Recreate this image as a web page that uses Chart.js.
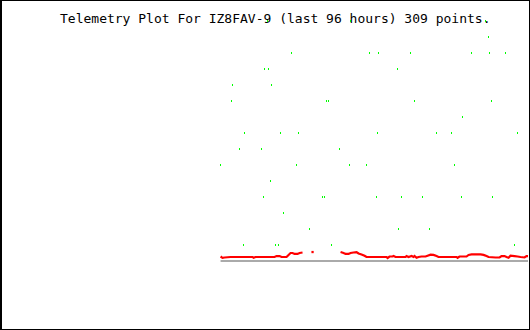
<!DOCTYPE html>
<html>
<head>
<meta charset="utf-8">
<script src="https://cdn.jsdelivr.net/npm/chart.js@4"></script>
<style>
  html, body { margin: 0; padding: 0; background: #fff; }
  #frame { position: relative; width: 530px; height: 330px; box-sizing: border-box;
           border-style: solid; border-color: #000; border-width: 1px 1px 1px 2px; background: #fff; }
  #title { position: absolute; left: 58px; top: 10px; font-family: "DejaVu Sans Mono", monospace;
           font-size: 13px; line-height: 15px; color: #000; white-space: pre; }
  #c { position: absolute; left: 0; top: 0; }
</style>
</head>
<body>
<div id="frame">
  <div id="title">Telemetry Plot For IZ8FAV-9 (last 96 hours) 309 points.</div>
  <canvas id="c" width="527" height="328"></canvas>
</div>
<script>
// ---- data (x = hours relative to now, y = plot value) ----
const titleText = "Telemetry Plot For IZ8FAV-9 (last 96 hours) 309 points.";

const greenHours = [
  -47.58, -32.49, -7.85,
  -7.25,
  -43.25, -28.96, -27.32, -21.48, -10.35, -7.06, -4.14,
  -48.13, -47.40, -23.85,
  -53.97, -46.85,
  -54.15, -36.83, -36.59, -20.75, -6.70,
  -11.99,
  -51.78, -45.21, -41.92, -27.50, -16.74, -14.00, -1.95,
  -52.69, -48.68, -34.44,
  -56.16, -42.29, -32.61, -29.51, -13.45, -0.05,
  -47.03,
  -48.31, -37.56, -37.32, -27.69, -23.12, -19.29, -12.17, -6.52,
  -44.66,
  -39.92, -23.67, -18.01,
  -51.96, -46.12, -45.57, -35.90, -2.50
];
const greenValues = [
  15, 15, 15,
  14,
  13, 13, 13, 13, 13, 13, 13,
  12, 12, 12,
  11, 11,
  10, 10, 10, 10, 10,
  9,
  8, 8, 8, 8, 8, 8, 8,
  7, 7, 7,
  6, 6, 6, 6, 6, 6,
  5,
  4, 4, 4, 4, 4, 4, 4, 4,
  3,
  2, 2, 2,
  1, 1, 1, 1, 1
];

const redHours = [
  -56.21, -55.85, -55.48, -54.39, -52.56, -50.37, -50.19, -49.83, -48.00, -46.36,
  -45.99, -45.44, -45.08, -44.17, -43.80, -43.44, -43.07, -42.71, -42.16, -41.79,
  -41.25, -40.50, -39.42, -37.00, -34.31, -33.76, -33.40, -32.85, -32.49, -31.94,
  -31.39, -31.03, -30.48, -29.93, -29.57, -27.92, -25.92, -25.73, -25.37, -24.82,
  -24.64, -24.27, -23.36, -22.45, -22.27, -21.90, -21.35, -20.99, -20.81, -20.44,
  -20.08, -19.53, -18.80, -18.43, -17.89, -17.34, -16.79, -16.43, -14.78, -13.14,
  -12.96, -12.59, -11.32, -10.95, -10.40, -8.76, -8.21, -7.67, -7.30, -6.02,
  -5.29, -4.93, -4.38, -4.02, -3.65, -3.29, -2.56, -2.01, -1.46, -0.73,
  -0.37, 0.00
];
const redValues = [
  0.28, 0.20, 0.22, 0.25, 0.25, 0.25, 0.20, 0.25, 0.25, 0.25,
  0.31, 0.31, 0.25, 0.25, 0.38, 0.50, 0.50, 0.44, 0.44, 0.50,
  0.53, null, 0.56, null, 0.56, 0.50, 0.44, 0.44, 0.50, 0.53,
  0.56, 0.47, 0.41, 0.33, 0.25, 0.25, 0.25, 0.19, 0.28, 0.28,
  0.31, 0.25, 0.25, 0.25, 0.31, 0.25, 0.31, 0.25, 0.31, 0.20,
  0.25, 0.28, 0.28, 0.33, 0.40, 0.38, 0.31, 0.25, 0.25, 0.25,
  0.20, 0.28, 0.28, 0.38, 0.41, 0.41, 0.38, 0.31, 0.25, 0.22,
  0.22, 0.31, 0.31, 0.25, 0.20, 0.33, 0.31, 0.28, 0.25, 0.22,
  0.31, 0.31
];

const baseHours = [-56.21, 0.00];
const baseValues = [0, 0];

// ---- build ----
function pts(xs, ys) { return xs.map((x, i) => ({ x: x, y: ys[i] })); }

const dot = document.createElement('canvas');
dot.width = 1; dot.height = 2;
const dctx = dot.getContext('2d');
dctx.fillStyle = '#00ff00';
dctx.fillRect(0, 0, 1, 2);

new Chart(document.getElementById('c'), {
  type: 'scatter',
  data: {
    datasets: [
      {
        label: 'base',
        data: pts(baseHours, baseValues),
        showLine: true,
        borderColor: '#aaaaaa',
        borderWidth: 2,
        pointRadius: 0,
        pointHoverRadius: 0,
        order: 3
      },
      {
        label: 'red',
        data: pts(redHours, redValues),
        showLine: true,
        spanGaps: false,
        borderColor: '#ff0000',
        backgroundColor: '#ff0000',
        borderWidth: 2.2,
        pointStyle: 'rect',
        pointBorderWidth: 0,
        pointHoverRadius: 0,
        pointRadius: (ctx) => {
          const d = redValues, i = ctx.dataIndex;
          if (d[i] === null) return 0;
          const prevNull = i === 0 || d[i - 1] === null;
          const nextNull = i === d.length - 1 || d[i + 1] === null;
          return (prevNull && nextNull) ? 1.6 : 0;
        },
        order: 2
      },
      {
        label: 'green',
        data: pts(greenHours, greenValues),
        showLine: false,
        pointStyle: dot,
        pointRadius: 1,
        pointHoverRadius: 1,
        order: 1
      }
    ]
  },
  options: {
    responsive: false,
    animation: false,
    devicePixelRatio: 1,
    layout: { autoPadding: false, padding: { top: 4, bottom: 52, left: 0, right: 1 } },
    plugins: { legend: { display: false }, title: { display: false }, tooltip: { enabled: false } },
    scales: {
      x: { type: 'linear', min: -96.1, max: -0.1, display: false },
      y: { type: 'linear', min: -1, max: 16, display: false }
    }
  }
});
</script>
</body>
</html>
